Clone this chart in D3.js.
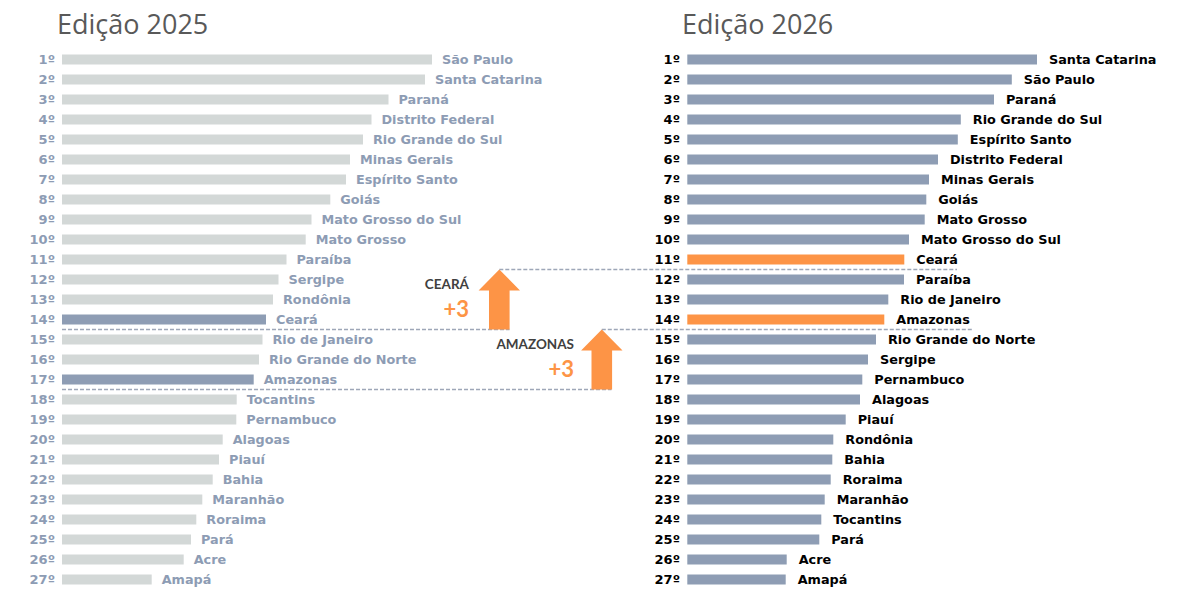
<!DOCTYPE html>
<html><head><meta charset="utf-8">
<script src="https://cdn.jsdelivr.net/npm/d3@7"></script>
<style>body{margin:0;background:#fff}</style>
</head><body>
<script>
// ---- data ----
const titles = ["Edição 2025", "Edição 2026"];
const ranks = d3.range(1, 28).map(i => i + "º");
const states2025 = ["São Paulo","Santa Catarina","Paraná","Distrito Federal","Rio Grande do Sul","Minas Gerais","Espírito Santo","Goiás","Mato Grosso do Sul","Mato Grosso","Paraíba","Sergipe","Rondônia","Ceará","Rio de Janeiro","Rio Grande do Norte","Amazonas","Tocantins","Pernambuco","Alagoas","Piauí","Bahia","Maranhão","Roraima","Pará","Acre","Amapá"];
const values2025 = [370,363,326.5,309.5,301,288,284,268.3,249.5,243.7,224.5,216.5,211,204,200.5,197,191.7,174.7,174.3,160.7,157,150.7,140.3,134.3,129,121.7,89.7];
const states2026 = ["Santa Catarina","São Paulo","Paraná","Rio Grande do Sul","Espírito Santo","Distrito Federal","Minas Gerais","Goiás","Mato Grosso","Mato Grosso do Sul","Ceará","Paraíba","Rio de Janeiro","Amazonas","Rio Grande do Norte","Sergipe","Pernambuco","Alagoas","Piauí","Rondônia","Bahia","Roraima","Maranhão","Tocantins","Pará","Acre","Amapá"];
const values2026 = [349.7,324.5,306.7,273.5,270.5,250.7,241.7,239,237.4,221.7,217,216.7,201,197,188.7,180.7,175,172.7,158.4,146,145,143.4,137.4,134,132,99.4,98.4];
const highlighted = ["Ceará","Amazonas"];
const gains = [{state:"Ceará", label:"CEARÁ", change:"+3"},{state:"Amazonas", label:"AMAZONAS", change:"+3"}];

// ---- layout ----
const W = 1196, H = 610;
const svg = d3.select("body").append("svg").attr("width", W).attr("height", H);
const y = d3.scalePoint().domain(d3.range(1, 28)).range([59.5, 579.5]);
const barH = 10;
const x = d3.scaleLinear().domain([0, 400]).range([0, 400]);
const lblFont = "'DejaVu Sans', Verdana, sans-serif";

const panels = [
  {title: titles[0], tx: 57, x0: 62, rankX: 55, gap: 10, states: states2025, values: values2025,
   barColor: d => highlighted.includes(d) ? "#8e9db4" : "#d3d8d7", textColor: "#8d9cb4", rankColor: "#8d9cb4"},
  {title: titles[1], tx: 682, x0: 687.3, rankX: 680, gap: 12, states: states2026, values: values2026,
   barColor: d => highlighted.includes(d) ? "#fd9446" : "#8e9db4", textColor: "#000", rankColor: "#000"}
];

panels.forEach(p => {
  const g = svg.append("g");
  g.append("text").attr("x", p.tx).attr("y", 34)
    .style("font-family", "'Open Sans', sans-serif").style("font-size", "27px")
    .attr("fill", "#595959").text(p.title);
  const rows = p.states.map((s, i) => ({rank: i + 1, state: s, value: p.values[i]}));
  g.selectAll("text.rank").data(rows).join("text").attr("class", "rank")
    .attr("x", p.rankX).attr("y", d => y(d.rank)).attr("dy", "0.36em")
    .attr("text-anchor", "end").style("font-family", lblFont).style("font-weight", "bold")
    .style("font-size", "13px").attr("fill", p.rankColor).text(d => ranks[d.rank - 1]);
  g.selectAll("rect").data(rows).join("rect")
    .attr("x", p.x0).attr("y", d => y(d.rank) - barH / 2)
    .attr("width", d => x(d.value)).attr("height", barH)
    .attr("fill", d => p.barColor(d.state));
  g.selectAll("text.name").data(rows).join("text").attr("class", "name")
    .attr("x", d => p.x0 + x(d.value) + p.gap).attr("y", d => y(d.rank)).attr("dy", "0.36em")
    .style("font-family", lblFont).style("font-weight", "bold").style("font-size", "12.8px")
    .attr("fill", p.textColor).text(d => d.state);
});

// ---- movement annotations ----
const mid = r => (y(r) + y(r + 1)) / 2;
const dash = (x1, x2, yy) => svg.append("line").attr("x1", x1).attr("x2", x2).attr("y1", yy).attr("y2", yy)
  .attr("stroke", "#9ea7b8").attr("stroke-width", 1.3).attr("stroke-dasharray", "4,2");

const arrowCfg = [{cx: 499.3, leftEnd: 509.5, rightEnd: 957, textX: 469}, {cx: 601.8, leftEnd: 611.5, rightEnd: 972, textX: 574}];

gains.forEach((gn, k) => {
  const c = arrowCfg[k];
  const r0 = states2025.indexOf(gn.state) + 1;
  const r1 = states2026.indexOf(gn.state) + 1;
  const yB = mid(r0), yT = mid(r1);
  dash(62, c.leftEnd, yB);
  dash(c.cx, c.rightEnd, yT);
  const sw = 10.3, hw = 20.7, hh = 21;
  const path = d3.path();
  path.moveTo(c.cx, yT);
  path.lineTo(c.cx + hw, yT + hh);
  path.lineTo(c.cx + sw, yT + hh);
  path.lineTo(c.cx + sw, yB);
  path.lineTo(c.cx - sw, yB);
  path.lineTo(c.cx - sw, yT + hh);
  path.lineTo(c.cx - hw, yT + hh);
  path.closePath();
  svg.append("path").attr("d", path.toString()).attr("fill", "#fd9446");
  svg.append("text").attr("x", c.textX).attr("y", yT + 19.5).attr("text-anchor", "end")
    .style("font-family", "Lato, sans-serif").style("font-weight", "bold").style("font-size", "13.5px")
    .attr("fill", "#404040").text(gn.label);
  svg.append("text").attr("x", c.textX).attr("y", yT + 47).attr("text-anchor", "end")
    .style("font-family", "Lato, sans-serif").style("font-weight", "bold").style("font-size", "22px")
    .attr("fill", "#fd9446").text(gn.change);
});
</script>
</body></html>
